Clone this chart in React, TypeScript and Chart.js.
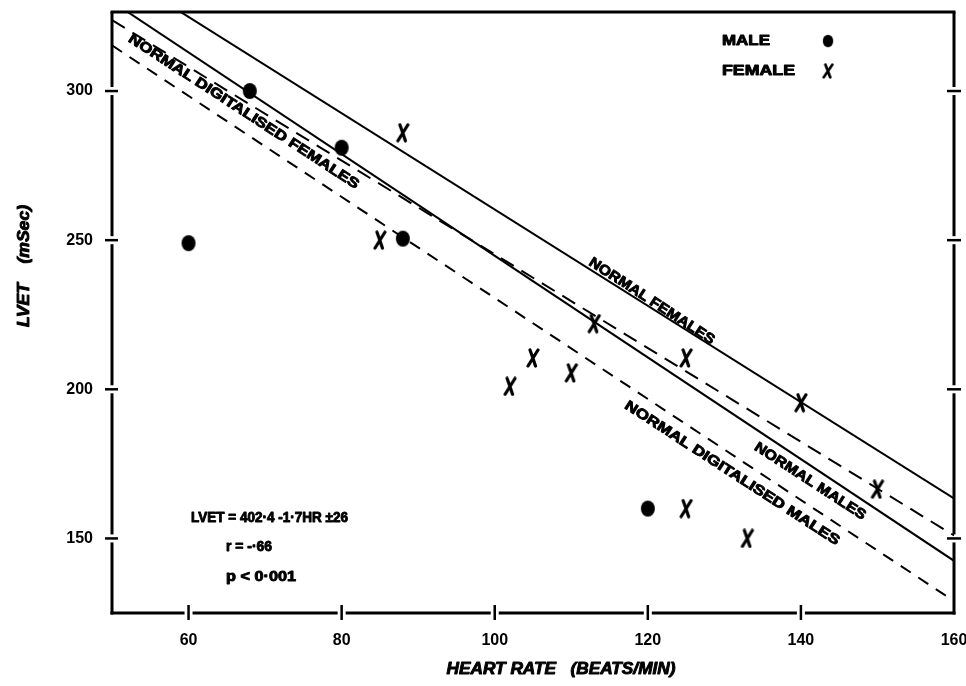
import React, { useEffect, useRef } from "react";
import { Chart, registerables } from "chart.js";

Chart.register(...registerables);

// ---- data ----
const xTicks = [60, 80, 100, 120, 140, 160];
const yTicks = [150, 200, 250, 300];

const maleHR = [60, 68, 80, 88, 120];
const maleLVET = [249, 300, 281, 250.5, 160];

const femaleHR = [85, 88, 102, 105, 110, 113, 125, 125, 133, 140, 150];
const femaleLVET = [250, 286, 201, 210.5, 205.5, 222, 210.5, 160, 150, 195.5, 166.5];

// regression lines: LVET at HR = 50 and HR = 160
const lineHR = [50, 160];
const normalFemales = [341, 163.4];
const normalMales = [330, 142.5];
const digitalisedFemales = [323.8, 151];
const digitalisedMales = [315.3, 129];

const lineLabels = ["NORMAL DIGITALISED FEMALES", "NORMAL FEMALES", "NORMAL MALES", "NORMAL DIGITALISED MALES"];
const equationLines = ["LVET = 402·4 -1·7HR ±26", "r = -·66", "p < 0·001"];
const legendLabels = ["MALE", "FEMALE"];

const FAMILY = '"Liberation Sans", Arial, sans-serif';

function pts(xs: number[], ys: number[]) {
  return xs.map((x, i) => ({ x, y: ys[i] }));
}

function fitText(
  ctx: CanvasRenderingContext2D,
  text: string,
  x: number,
  y: number,
  angle: number,
  width: number,
  font: string,
  align: CanvasTextAlign = "center"
) {
  ctx.save();
  ctx.font = font;
  ctx.translate(x, y);
  ctx.rotate(angle);
  const w = ctx.measureText(text).width;
  ctx.scale(width / w, 1);
  ctx.textAlign = align;
  ctx.textBaseline = "middle";
  ctx.fillStyle = "#000";
  ctx.strokeStyle = "#000";
  ctx.lineWidth = 0.9;
  ctx.lineJoin = "round";
  ctx.fillText(text, 0, 0);
  ctx.strokeText(text, 0, 0);
  ctx.restore();
}

function makeDot() {
  const c = document.createElement("canvas");
  c.width = 16;
  c.height = 18;
  const g = c.getContext("2d")!;
  g.fillStyle = "#000";
  g.beginPath();
  g.ellipse(8, 9, 7, 8, 0, 0, Math.PI * 2);
  g.fill();
  return c;
}

function makeX() {
  const c = document.createElement("canvas");
  c.width = 16;
  c.height = 20;
  const g = c.getContext("2d")!;
  g.strokeStyle = "#000";
  g.lineWidth = 3.2;
  g.lineCap = "round";
  g.beginPath();
  g.moveTo(5, 2);
  g.quadraticCurveTo(8, 10, 10.5, 18);
  g.moveTo(13, 2);
  g.lineTo(3, 18);
  g.stroke();
  return c;
}

const zeroPad = (s: any) => {
  s.paddingTop = 0;
  s.paddingBottom = 0;
  s.paddingLeft = 0;
  s.paddingRight = 0;
};

export default function App() {
  const ref = useRef<HTMLCanvasElement | null>(null);

  useEffect(() => {
    if (!ref.current) return;
    const dot = makeDot();
    const cross = makeX();

    const framePlugin = {
      id: "frame",
      beforeDatasetsDraw(chart: any) {
        const ctx = chart.ctx as CanvasRenderingContext2D;
        const { left, right, top, bottom } = chart.chartArea;
        const xs = chart.scales.x;
        const ys = chart.scales.y;
        ctx.save();
        ctx.strokeStyle = "#000";
        ctx.lineCap = "butt";
        ctx.lineWidth = 3;
        const seg = (a: number, b: number, c: number, d: number) => {
          ctx.beginPath();
          ctx.moveTo(a, b);
          ctx.lineTo(c, d);
          ctx.stroke();
        };
        // top
        seg(left - 1.5, top, right + 1.5, top);
        // vertical sides with gaps at ticks
        const yp = yTicks.map((v) => ys.getPixelForValue(v)).sort((a, b) => a - b);
        for (const sx of [left, right]) {
          let start = top;
          for (const p of yp) {
            seg(sx, start, sx, p - 4);
            start = p + 4;
          }
          seg(sx, start, sx, bottom + 1.5);
        }
        // bottom with gaps at ticks
        const xp = xTicks.filter((v) => v < 160).map((v) => xs.getPixelForValue(v));
        let st = left - 1.5;
        for (const p of xp) {
          seg(st, bottom, p - 4, bottom);
          st = p + 4;
        }
        seg(st, bottom, right + 1.5, bottom);
        // tick marks
        ctx.lineWidth = 2.5;
        for (const p of yp) {
          seg(left - 7, p, left + 6, p);
          seg(right - 7, p, right + 7, p);
        }
        for (const p of xp) {
          seg(p, bottom - 8, p, bottom + 7);
        }
        ctx.restore();
      },
      afterDraw(chart: any) {
        const ctx = chart.ctx as CanvasRenderingContext2D;
        const xs = chart.scales.x;
        const ys = chart.scales.y;
        const ang = (33 * Math.PI) / 180;
        const lf = `bold 14px ${FAMILY}`;
        const place = (t: string, hx: number, lv: number, w: number) =>
          fitText(ctx, t, xs.getPixelForValue(hx), ys.getPixelForValue(lv), ang, w, lf);
        place(lineLabels[0], 67.2, 293.0, 272);
        place(lineLabels[1], 120.5, 229.5, 147);
        place(lineLabels[2], 141.2, 169.1, 130);
        place(lineLabels[3], 131, 171.8, 253);

        // equation block
        const ef = `bold 14px ${FAMILY}`;
        fitText(ctx, equationLines[0], 191, 518, 0, 157, ef, "left");
        fitText(ctx, equationLines[1], 226, 547, 0, 46, ef, "left");
        fitText(ctx, equationLines[2], 226, 577, 0, 70, ef, "left");

        // legend
        const gf = `bold 14px ${FAMILY}`;
        fitText(ctx, legendLabels[0], 722, 41, 0, 48, gf, "left");
        fitText(ctx, legendLabels[1], 722, 71, 0, 73, gf, "left");
        ctx.drawImage(dot, 828 - 6, 41 - 7, 12, 14);
        ctx.drawImage(cross, 828 - 7, 71 - 8, 14, 16);

        // axis titles
        const tf = `italic bold 16px ${FAMILY}`;
        fitText(ctx, "HEART RATE   (BEATS/MIN)", 561, 670, 0, 229, tf);
        fitText(ctx, "LVET    (mSec)", 25, 266, -Math.PI / 2, 122, tf);
      },
    };

    const lineStyle = (data: number[], dash: number[]) => ({
      type: "scatter" as const,
      data: pts(lineHR, data),
      showLine: true,
      pointRadius: 0,
      borderColor: "#000",
      backgroundColor: "#000",
      borderWidth: 2,
      borderDash: dash,
      clip: 0,
    });

    const chart = new Chart(ref.current, {
      type: "scatter",
      data: {
        datasets: [
          {
            label: "MALE",
            data: pts(maleHR, maleLVET),
            pointStyle: dot as any,
            pointRadius: 8,
            backgroundColor: "#000",
            borderColor: "#000",
          },
          {
            label: "FEMALE",
            data: pts(femaleHR, femaleLVET),
            pointStyle: cross as any,
            pointRadius: 9,
            backgroundColor: "#000",
            borderColor: "#000",
          },
          { label: "Normal females", ...lineStyle(normalFemales, []) },
          { label: "Normal males", ...lineStyle(normalMales, []) },
          { label: "Normal digitalised females", ...lineStyle(digitalisedFemales, [15, 9]) },
          { label: "Normal digitalised males", ...lineStyle(digitalisedMales, [12, 9]) },
        ] as any,
      },
      options: {
        animation: false,
        responsive: false,
        maintainAspectRatio: false,
        layout: { padding: { top: 12, right: 12, left: 0, bottom: 0 } },
        plugins: { legend: { display: false }, tooltip: { enabled: false } },
        scales: {
          x: {
            type: "linear",
            min: 50,
            max: 160,
            grid: { display: false, drawTicks: false },
            border: { display: false },
            afterBuildTicks: (s: any) => {
              s.ticks = xTicks.map((v) => ({ value: v }));
            },
            afterFit: (s: any) => {
              s.height = 73;
              zeroPad(s);
            },
            ticks: {
              padding: 18,
              color: "#000",
              font: { family: FAMILY, weight: "bold", size: 16 },
              maxRotation: 0,
              autoSkip: false,
            },
          },
          y: {
            type: "linear",
            min: 125,
            max: 326.5,
            grid: { display: false, drawTicks: false },
            border: { display: false },
            afterBuildTicks: (s: any) => {
              s.ticks = yTicks.map((v) => ({ value: v }));
            },
            afterFit: (s: any) => {
              s.width = 112;
              zeroPad(s);
            },
            ticks: {
              padding: 19,
              color: "#000",
              font: { family: FAMILY, weight: "bold", size: 16 },
            },
          },
        },
      } as any,
      plugins: [framePlugin],
    });
    return () => chart.destroy();
  }, []);

  return (
    <div style={{ position: "absolute", left: 0, top: 0, width: 966, height: 686, background: "#fff" }}>
      <canvas ref={ref} width={966} height={686} style={{ display: "block" }} />
    </div>
  );
}
